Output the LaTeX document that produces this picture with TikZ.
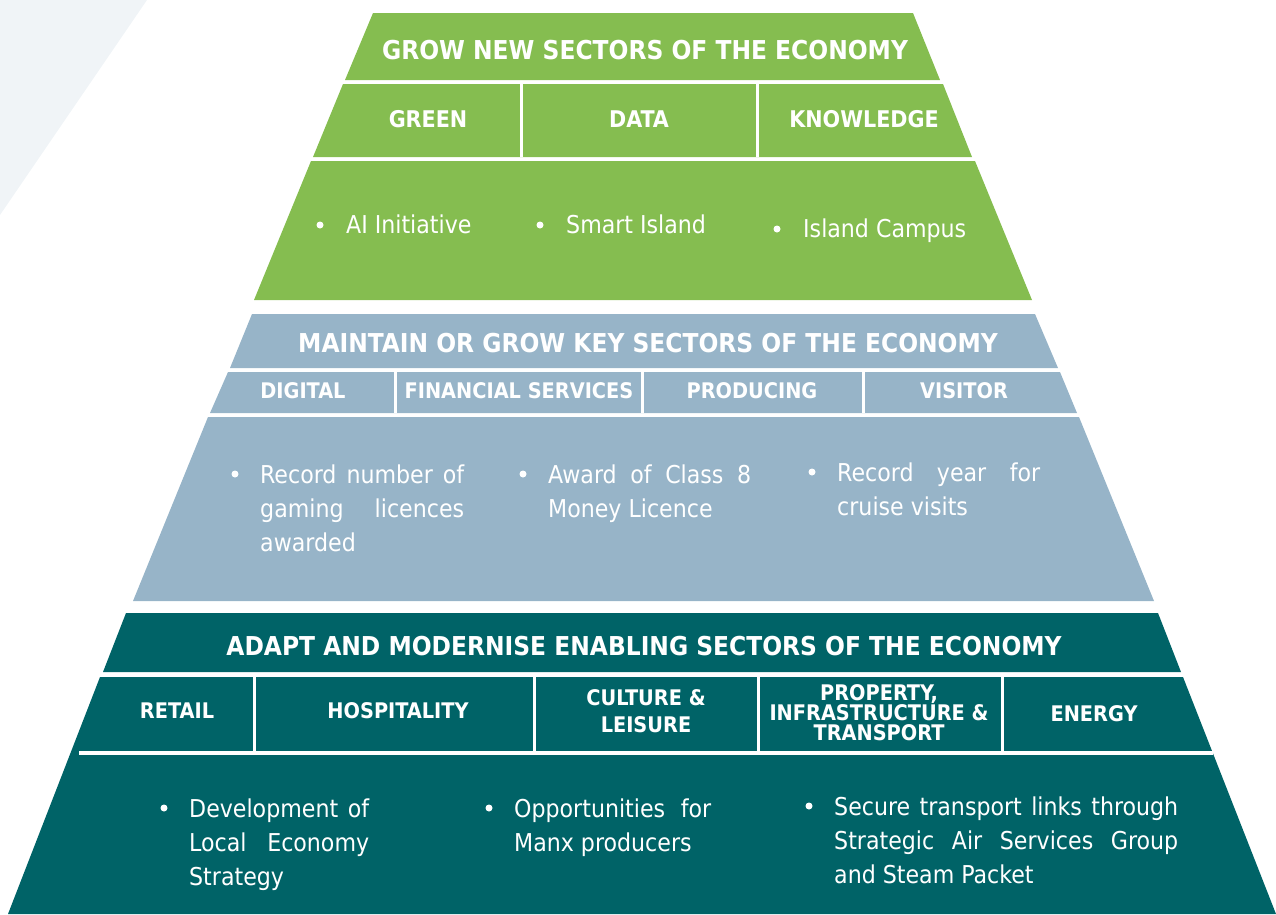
\documentclass[tikz,border=0pt]{standalone}
\usepackage{fontspec}
\setmainfont{DejaVuSansCondensed}[Extension=.ttf, BoldFont=DejaVuSansCondensed-Bold]

\definecolor{vert}{RGB}{133,189,80}
\definecolor{bleu}{RGB}{151,180,200}
\definecolor{sarcelle}{RGB}{0,99,103}
\definecolor{fond}{RGB}{240,244,247}

\tikzset{
  titre/.style={text=white, font=\bfseries\fontsize{26}{28}\selectfont},
  secteur/.style={text=white, font=\bfseries\fontsize{23}{24}\selectfont, align=center},
  petit/.style={text=white, font=\bfseries\fontsize{21.5}{20}\selectfont, align=center},
  puce/.style={circle, fill=white, inner sep=0pt, minimum size=7pt},
  texte/.style={text=white, font=\fontsize{24.6}{34}\selectfont, anchor=base west, inner sep=0pt, align=justify},
  trait/.style={white, line width=3pt},
}

\begin{document}
\begin{tikzpicture}[x=1pt, y=-1pt]
		\useasboundingbox (0,0) rectangle (1276,914);

		% fond clair
		\fill[fond] (0,0) -- (147,0) -- (0,215) -- cycle;

		% premier etage
		\fill[vert] (373,13) -- (913,13) -- (940,80) -- (345,80) -- cycle;
		\fill[vert] (343,84) -- (943,84) -- (972,157) -- (313,157) -- cycle;
		\fill[vert] (311,161) -- (975,161) -- (1032,300) -- (254,300) -- cycle;
		\draw[trait] (521,84) -- (521,157);
		\draw[trait] (757,84) -- (757,157);

		\node[titre] (titreA) at (645,50) {GROW NEW SECTORS OF THE ECONOMY};
		\node[secteur] (green) at (428,119) {GREEN};
		\node[secteur] (data) at (639,119) {DATA};
		\node[secteur] (knowledge) at (864,119) {KNOWLEDGE};

		\node[puce] (pA1) at (320,225) {};
		\node[texte] (ai) at (346,233) {AI Initiative};
		\node[puce] (pA2) at (540,225) {};
		\node[texte] (smart) at (566,233) {Smart Island};
		\node[puce] (pA3) at (777,229) {};
		\node[texte] (campus) at (803,237) {Island Campus};

		% deuxieme etage
		\fill[bleu] (252,314) -- (1035,314) -- (1058,368) -- (230,368) -- cycle;
		\fill[bleu] (228,372) -- (1060,372) -- (1077,413) -- (210,413) -- cycle;
		\fill[bleu] (208,417) -- (1079,417) -- (1154,601) -- (133,601) -- cycle;
		\draw[trait] (395,372) -- (395,413);
		\draw[trait] (642,372) -- (642,413);
		\draw[trait] (863,372) -- (863,413);

		\node[titre] (titreB) at (648,343) {MAINTAIN OR GROW KEY SECTORS OF THE ECONOMY};
		\node[petit] (digital) at (303,391) {DIGITAL};
		\node[petit] (finance) at (519,391) {FINANCIAL SERVICES};
		\node[petit] (producing) at (752,391) {PRODUCING};
		\node[petit] (visitor) at (964,391) {VISITOR};

		\node[puce] (pB1) at (235,474) {};
		\node[texte, text width=204pt] (gaming) at (260,483) {Record number of\linebreak gaming licences\linebreak awarded};
		\node[puce] (pB2) at (523,474) {};
		\node[texte, text width=203pt] (money) at (548,483) {Award of Class 8\linebreak Money Licence};
		\node[puce] (pB3) at (812,472) {};
		\node[texte, text width=203pt] (cruise) at (837,481) {Record year for\linebreak cruise visits};

		% troisieme etage
		\fill[sarcelle] (126,613) -- (1158,613) -- (1181,672) -- (103,672) -- cycle;
		\fill[sarcelle] (100,677) -- (1183,677) -- (1276,914) -- (8,914) -- cycle;
		\draw[white, line width=4pt] (79,753) -- (1213,753);
		\draw[trait] (254,677) -- (254,751);
		\draw[trait] (534,677) -- (534,751);
		\draw[trait] (758,677) -- (758,751);
		\draw[trait] (1002,677) -- (1002,751);

		\node[titre] (titreC) at (644,646) {ADAPT AND MODERNISE ENABLING SECTORS OF THE ECONOMY};
		\node[petit] (retail) at (177,711) {RETAIL};
		\node[petit] (hospitality) at (398,711) {HOSPITALITY};
		\node[petit, font=\bfseries\fontsize{21.5}{27}\selectfont] (culture) at (646,711) {CULTURE \&\\ LEISURE};
		\node[petit] (property) at (879,713) {PROPERTY,\\ INFRASTRUCTURE \&\\ TRANSPORT};
		\node[petit] (energy) at (1094,714) {ENERGY};

		\node[puce] (pC1) at (164,808) {};
		\node[texte, text width=180pt] (local) at (189,817) {Development of\linebreak Local Economy\linebreak Strategy};
		\node[puce] (pC2) at (489,808) {};
		\node[texte, text width=197pt] (manx) at (514,817) {Opportunities for\linebreak Manx producers};
		\node[puce] (pC3) at (809,806) {};
		\node[texte, text width=344pt] (links) at (834,815) {Secure transport links through\linebreak Strategic Air Services Group\linebreak and Steam Packet};
\end{tikzpicture}
\end{document}
